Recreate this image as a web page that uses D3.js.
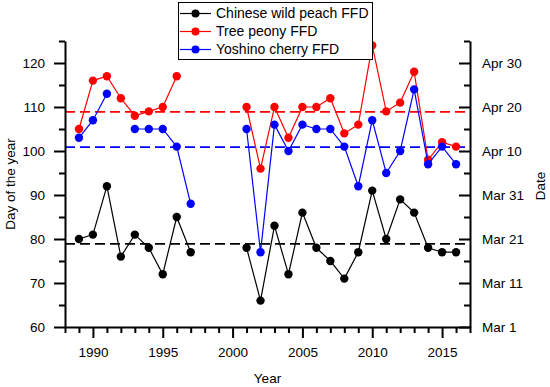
<!DOCTYPE html>
<html><head><meta charset="utf-8">
<script src="https://cdn.jsdelivr.net/npm/d3@7"></script>
<style>
body{margin:0;background:#fff;}
svg{display:block;font-family:"Liberation Sans",Arial,sans-serif;}
</style></head>
<body><svg id="chart" width="550" height="387"></svg>
<script>
const years = [1989,1990,1991,1992,1993,1994,1995,1996,1997,1998,1999,2000,2001,2002,2003,2004,2005,2006,2007,2008,2009,2010,2011,2012,2013,2014,2015,2016];
const peach  = [80,81,92,76,81,78,72,85,77,null,null,null,78,66,83,72,86,78,75,71,77,91,80,89,86,78,77,77];
const peony  = [105,116,117,112,108,109,110,117,null,null,null,null,110,96,110,103,110,110,112,104,106,124,109,111,118,98,102,101];
const cherry = [103,107,113,null,105,105,105,101,88,null,null,null,105,77,106,100,106,105,105,101,92,107,95,100,114,97,101,97];
const seriesNames = ["Chinese wild peach FFD","Tree peony FFD","Yoshino cherry FFD"];
const seriesColors = ["#000000","#ff0000","#0000ff"];
const meanValues = [78.9,108.9,100.9];
const yTicks = [60,70,80,90,100,110,120];
const dateLabels = ["Mar 1","Mar 11","Mar 21","Mar 31","Apr 10","Apr 20","Apr 30"];
const xTicks = [1990,1995,2000,2005,2010,2015];

const svg = d3.select("#chart");
const x = d3.scaleLinear().domain([1988,2017]).range([65,470]);
const y = d3.scaleLinear().domain([60,125]).range([327,41]);
const fs = "13.5px";

meanValues.forEach((m,i)=>{
  svg.append("line").attr("x1",x(1988)).attr("x2",x(2017)).attr("y1",y(m)).attr("y2",y(m))
    .attr("stroke",seriesColors[i]).attr("stroke-width",1.8).attr("stroke-dasharray","10,5");
});

const allSeries = [peach,peony,cherry];
allSeries.forEach((vals,i)=>{
  const data = years.map((yr,j)=>({yr,v:vals[j]}));
  const line = d3.line().defined(d=>d.v!==null).x(d=>x(d.yr)).y(d=>y(d.v));
  svg.append("path").datum(data).attr("d",line).attr("fill","none")
    .attr("stroke",seriesColors[i]).attr("stroke-width",1.2);
  svg.append("g").selectAll("circle").data(data.filter(d=>d.v!==null)).join("circle")
    .attr("cx",d=>x(d.yr)).attr("cy",d=>y(d.v)).attr("r",4.2).attr("fill",seriesColors[i]);
});

function styleAxis(g){
  g.select(".domain").attr("stroke","#000").attr("stroke-width",2);
  g.selectAll(".tick line").attr("stroke","#000").attr("stroke-width",2);
  g.selectAll("text").attr("font-size",fs).attr("fill","#000").attr("font-family","\"Liberation Sans\",Arial,sans-serif");
}

const minorY = d3.range(65,126,10);
svg.append("g").attr("transform",`translate(${x(1988)},0)`)
  .call(d3.axisLeft(y).tickValues(minorY).tickSize(6).tickSizeOuter(0).tickFormat(""))
  .call(g=>{g.select(".domain").remove();g.selectAll(".tick line").attr("stroke","#000").attr("stroke-width",2);});
svg.append("g").attr("transform",`translate(${x(1988)},0)`)
  .call(d3.axisLeft(y).tickValues(yTicks).tickSize(11).tickSizeOuter(0).tickPadding(9))
  .call(styleAxis);

svg.append("g").attr("transform",`translate(${x(2017)},0)`)
  .call(d3.axisRight(y).tickValues(minorY).tickSize(-6).tickSizeOuter(0).tickFormat(""))
  .call(g=>{g.select(".domain").remove();g.selectAll(".tick line").attr("stroke","#000").attr("stroke-width",2);});
svg.append("g").attr("transform",`translate(${x(2017)},0)`)
  .call(d3.axisRight(y).tickValues(yTicks).tickSize(-11).tickSizeOuter(0).tickPadding(12)
    .tickFormat((d,i)=>dateLabels[i]))
  .call(styleAxis);

const minorX = d3.range(1988,2018).filter(v=>v%5!==0);
svg.append("g").attr("transform",`translate(0,${y(60)})`)
  .call(d3.axisBottom(x).tickValues(minorX).tickSize(6).tickSizeOuter(0).tickFormat(""))
  .call(g=>{g.select(".domain").remove();g.selectAll(".tick line").attr("stroke","#000").attr("stroke-width",2);});
svg.append("g").attr("transform",`translate(0,${y(60)})`)
  .call(d3.axisBottom(x).tickValues(xTicks).tickSize(11).tickSizeOuter(0).tickPadding(9).tickFormat(d3.format("d")))
  .call(styleAxis);

svg.append("text").attr("x",(x(1988)+x(2017))/2).attr("y",383).attr("text-anchor","middle")
  .attr("font-size",fs).text("Year");
svg.append("text").attr("transform",`translate(15,${(y(60)+y(125))/2}) rotate(-90)`).attr("text-anchor","middle")
  .attr("font-size",fs).text("Day of the year");
svg.append("text").attr("transform",`translate(545,186) rotate(-90)`).attr("text-anchor","middle")
  .attr("font-size",fs).text("Date");

const lg = svg.append("g");
lg.append("rect").attr("x",178.5).attr("y",2.5).attr("width",194).attr("height",57)
  .attr("fill","#fff").attr("stroke","#000").attr("stroke-width",1);
seriesNames.forEach((n,i)=>{
  const ly = 13.5 + i*18;
  lg.append("line").attr("x1",180).attr("x2",211).attr("y1",ly).attr("y2",ly)
    .attr("stroke",seriesColors[i]).attr("stroke-width",1.2);
  lg.append("circle").attr("cx",195.5).attr("cy",ly).attr("r",4).attr("fill",seriesColors[i]);
  lg.append("text").attr("x",216).attr("y",ly).attr("dy","0.35em").attr("font-size","14px").text(n);
});
</script></body></html>
